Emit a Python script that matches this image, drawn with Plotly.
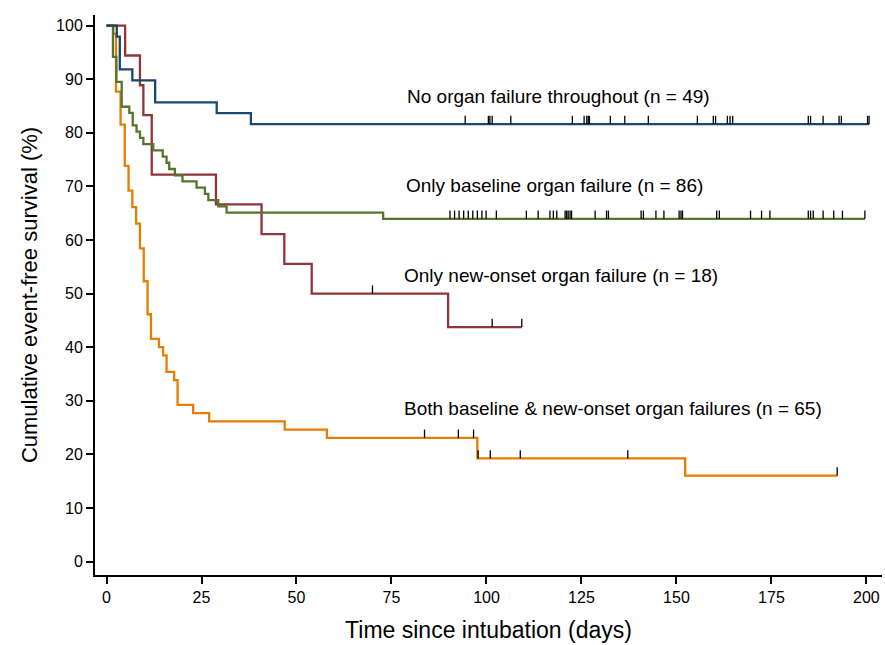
import plotly.graph_objects as go

# ---------------- data ----------------
labels = [
    "No organ failure throughout (n = 49)",
    "Only baseline organ failure (n = 86)",
    "Only new-onset organ failure (n = 18)",
    "Both baseline & new-onset organ failures (n = 65)",
]

# No organ failure throughout
none_t = [0, 2.7, 3.5, 6.8, 12.8, 29.0, 38.0]
none_s = [100, 97.96, 91.84, 89.80, 85.71, 83.67, 81.63]
none_end = 200.7
none_cens = [94.4, 100.5, 100.9, 101.5, 106.4, 122.6, 125.7, 126.4, 126.8, 127.1,
             132.6, 136.4, 142.6, 155.5, 159.7, 160.3, 163.4, 164.1, 164.8,
             184.7, 185.3, 188.6, 192.8, 193.4, 200.3, 200.7]

# Only baseline organ failure
base_t = [0, 1.7, 2.6, 4.0, 6.0, 6.9, 7.9, 8.8, 9.7, 12.3, 14.8, 15.8, 16.5,
          18.0, 20.0, 23.7, 25.9, 26.8, 29.4, 31.6, 72.8]
base_s = [100, 94.19, 89.53, 84.88, 83.72, 81.40, 80.23, 79.07, 77.91, 76.74,
          75.58, 74.42, 73.26, 72.09, 70.93, 69.77, 68.60, 67.44, 66.28, 65.12, 63.95]
base_end = 199.6
base_cens = [90.4, 91.6, 92.8, 94.0, 95.2, 96.4, 97.6, 98.8, 99.9, 102.6, 110.5,
             113.6, 116.7, 117.6, 118.5, 120.7, 121.1, 121.5, 122.0, 122.4,
             128.6, 131.6, 132.1, 140.7, 141.3, 144.6, 146.7, 150.7, 151.2, 151.6,
             160.6, 161.3, 169.5, 172.4, 174.6, 184.7, 185.3, 186.0, 188.6,
             191.4, 193.7, 199.6]

# Only new-onset organ failure
new_t = [0, 4.9, 8.8, 9.7, 11.9, 28.8, 40.8, 46.8, 54.0, 89.9]
new_s = [100, 94.44, 88.89, 83.33, 72.22, 66.67, 61.11, 55.56, 50.0, 43.75]
new_end = 109.3
new_cens = [70.0, 101.5, 109.3]

# Both baseline & new-onset organ failures
both_t = [0, 1.8, 2.5, 3.7, 4.8, 5.8, 6.8, 7.8, 8.8, 9.8, 10.8, 11.7, 13.8,
          14.9, 15.8, 17.8, 18.7, 22.8, 27.0, 46.9, 58.0, 97.6, 152.3]
both_s = [100, 98.46, 87.69, 81.54, 73.85, 69.23, 66.15, 63.08, 58.46, 52.31,
          46.15, 41.54, 40.0, 38.46, 35.38, 33.85, 29.23, 27.69, 26.15, 24.61,
          23.07, 19.23, 16.02]
both_end = 192.3
both_cens = [83.7, 92.6, 96.6, 97.8, 101.0, 108.9, 137.2, 192.3]

x_ticks = [0, 25, 50, 75, 100, 125, 150, 175, 200]
y_ticks = [0, 10, 20, 30, 40, 50, 60, 70, 80, 90, 100]

# label anchor positions (data units)
label_x = [78.6, 78.3, 77.8, 77.8]
label_y = [86.7, 70.1, 53.3, 28.5]

# ---------------- styling ----------------
colors = ["#1a476f", "#55752f", "#90353b", "#e37e00"]
series = [
    (none_t, none_s, none_end, none_cens),
    (base_t, base_s, base_end, base_cens),
    (new_t, new_s, new_end, new_cens),
    (both_t, both_s, both_end, both_cens),
]
TICK_H = 1.55  # censor tick height in data units

fig = go.Figure()


def surv_at(ts, ss, t):
    val = ss[0]
    for ti, si in zip(ts, ss):
        if ti <= t:
            val = si
    return val


order = [3, 2, 1, 0]
for i in order:
    ts, ss, end, cens = series[i]
    fig.add_trace(go.Scatter(
        x=ts + [end], y=ss + [ss[-1]], mode="lines",
        line=dict(color=colors[i], width=2.3, shape="hv"),
        hoverinfo="skip", showlegend=False,
    ))

for i in order:
    ts, ss, end, cens = series[i]
    cx, cy = [], []
    for c in cens:
        s = surv_at(ts, ss, c)
        cx += [c, c, None]
        cy += [s, s + TICK_H, None]
    fig.add_trace(go.Scatter(
        x=cx, y=cy, mode="lines",
        line=dict(color="black", width=1.3),
        hoverinfo="skip", showlegend=False,
    ))

for lab, lx, ly in zip(labels, label_x, label_y):
    fig.add_annotation(x=lx, y=ly, text=lab, showarrow=False,
                       xanchor="left", yanchor="middle",
                       font=dict(family="Liberation Sans, Arial", size=19, color="black"))

fig.update_layout(
    width=885, height=645,
    margin=dict(l=95, r=3, t=15, b=70),
    plot_bgcolor="white", paper_bgcolor="white",
    font=dict(family="Liberation Sans, Arial", color="black"),
)
fig.update_xaxes(
    range=[-3.03, 204.1], tickvals=x_ticks, ticktext=[str(v) for v in x_ticks],
    showgrid=False, zeroline=False, showline=True, linecolor="black", linewidth=2,
    ticks="outside", ticklen=7, tickwidth=1.5, tickcolor="black",
    tickfont=dict(size=16, color="black"),
    title=dict(text="Time since intubation (days)", font=dict(size=23, color="black"), standoff=17),
    automargin=False,
)
fig.update_yaxes(
    range=[-2.52, 102.0], tickvals=y_ticks, ticktext=[str(v) for v in y_ticks],
    showgrid=False, zeroline=False, showline=True, linecolor="black", linewidth=2,
    ticks="outside", ticklen=7, tickwidth=1.5, tickcolor="black",
    tickfont=dict(size=16, color="black"),
    title=dict(text="Cumulative event-free survival (%)", font=dict(size=22, color="black"), standoff=12),
    automargin=False,
)

fig.write_html(
    "out.html",
    config={"displayModeBar": False},
    post_script="document.body.style.margin='0';document.body.style.overflow='hidden';",
)
